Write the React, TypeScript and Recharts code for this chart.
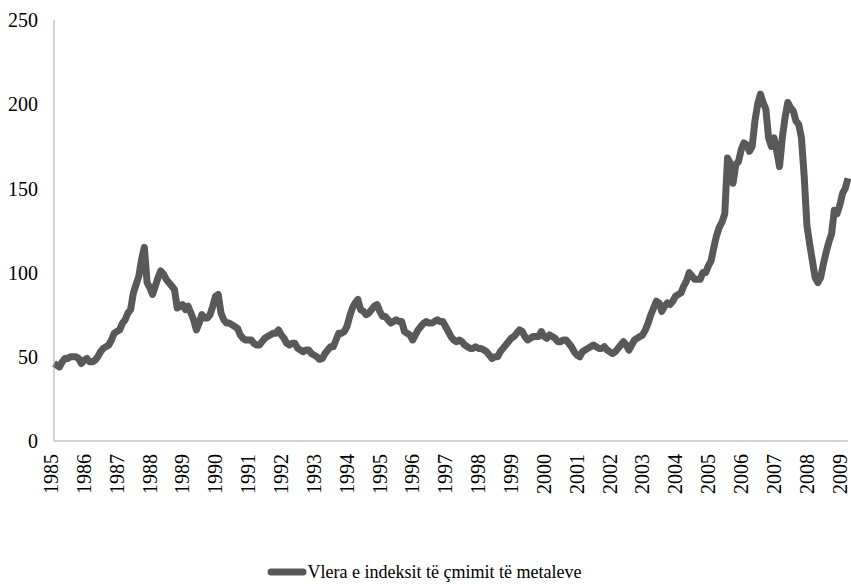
import React from "react";
import { LineChart, Line, XAxis, YAxis, Legend } from "recharts";

// monthly index values, Jan 1985 .. Mar 2009
const p1985_89 = [
  46, 45, 44, 47, 49, 49, 50, 50, 50, 49, 46, 48,
  49, 47, 47, 48, 50, 53, 55, 56, 57, 60, 64, 65,
  66, 70, 72, 76, 78, 88, 93, 98, 108, 115, 94, 91,
  87, 92, 97, 101, 99, 96, 94, 92, 90, 79, 80, 81,
  78, 80, 76, 72, 66, 70, 75, 73, 73, 75, 80, 86,
];
const p1990_94 = [
  87, 76, 72, 70, 70, 69, 68, 67, 63, 61, 60, 60,
  60, 58, 57, 57, 59, 61, 62, 63, 64, 64, 66, 63,
  61, 58, 57, 58, 58, 55, 54, 53, 54, 54, 52, 51,
  50, 48.5, 49, 52, 54, 56, 56, 60, 64, 64, 65, 68,
  74, 79, 82, 84, 78, 77, 75, 76, 78, 80, 81, 77,
];
const p1995_99 = [
  74, 74, 72, 70, 71, 72, 71, 71, 65, 64, 63, 60,
  63, 66, 68, 70, 71, 70, 70, 71, 72, 71, 71, 68,
  65, 62, 60, 59, 60, 59, 57, 56, 55, 55, 56, 55,
  55, 54, 53, 51, 49, 50, 50, 53, 55, 57, 59, 61,
  62, 64, 66, 65, 62, 60, 61, 62, 62, 62, 65, 62,
];
const p2000_04 = [
  61, 63, 62, 61, 59, 59, 60, 60, 58, 56, 53, 51,
  50, 53, 54, 55, 56, 57, 56, 55, 55, 56, 54, 53,
  52, 53, 55, 57, 59, 57, 54, 57, 60, 61, 62, 63,
  66, 70, 75, 79, 83, 82, 77, 80, 82, 81, 83, 86,
  87, 88, 92, 95, 100, 98, 96, 96, 96, 100, 100, 104,
];
const p2005_09 = [
  107, 115, 122, 127, 130, 135, 168, 165, 153, 164, 166, 173,
  177, 176, 172, 175, 190, 200, 206, 201, 197, 180, 175, 180,
  172, 163, 180, 192, 201, 198, 196, 190, 188, 180, 157, 128,
  117, 107, 97, 94, 97, 105, 112, 118, 123, 137, 135, 140,
  147, 150, 156,
];

const yTicks = [0, 50, 100, 150, 200, 250];
const seriesName = "Vlera e indeksit të çmimit të metaleve";

const values = [...p1985_89, ...p1990_94, ...p1995_99, ...p2000_04, ...p2005_09];
const data = values.map((v, i) => ({
  month: `${1985 + Math.floor(i / 12)}-${String((i % 12) + 1).padStart(2, "0")}`,
  v,
}));

const FONT = "'Liberation Serif', 'Times New Roman', serif";
const LINE = "#595959";

function YearTick(props: any) {
  const { x, y, payload } = props;
  const tx = x - 3; // labels sit a touch left of the january point
  const ty = y + 11;
  return (
    <text
      x={tx}
      y={ty}
      transform={`rotate(-90, ${tx}, ${ty})`}
      textAnchor="end"
      dy="0.35em"
      fontSize={20}
      fontFamily={FONT}
      fill="#000"
    >
      {String(payload.value).slice(0, 4)}
    </text>
  );
}

function LegendBox() {
  return (
    <div
      style={{
        height: 24,
        display: "flex",
        justifyContent: "center",
        alignItems: "center",
        fontFamily: FONT,
        fontSize: 18,
        color: "#000",
      }}
    >
      <svg width={40} height={10} style={{ marginRight: 1 }}>
        <line x1={4} y1={5} x2={36} y2={5} stroke={LINE} strokeWidth={7} strokeLinecap="round" />
      </svg>
      <span>{seriesName}</span>
    </div>
  );
}

export default function App() {
  return (
    <div style={{ position: "absolute", left: 0, top: 0, background: "#fff" }}>
      <LineChart
        width={851}
        height={584}
        data={data}
        margin={{ top: 20, right: 3, left: 0, bottom: 0 }}
      >
        <XAxis
          dataKey="month"
          interval={11}
          tick={<YearTick />}
          tickLine={false}
          tickSize={0}
          height={119}
          stroke="#a6a6a6"
        />
        <YAxis
          domain={[0, 250]}
          ticks={yTicks}
          interval={0}
          width={54}
          tickLine={false}
          tickSize={0}
          tickMargin={16}
          stroke="#a6a6a6"
          tick={{ fontSize: 20, fill: "#000", fontFamily: FONT }}
        />
        <Legend verticalAlign="bottom" content={<LegendBox />} />
        <Line
          type="linear"
          dataKey="v"
          name={seriesName}
          stroke={LINE}
          strokeWidth={7}
          strokeLinejoin="round"
          dot={false}
          isAnimationActive={false}
        />
      </LineChart>
    </div>
  );
}
